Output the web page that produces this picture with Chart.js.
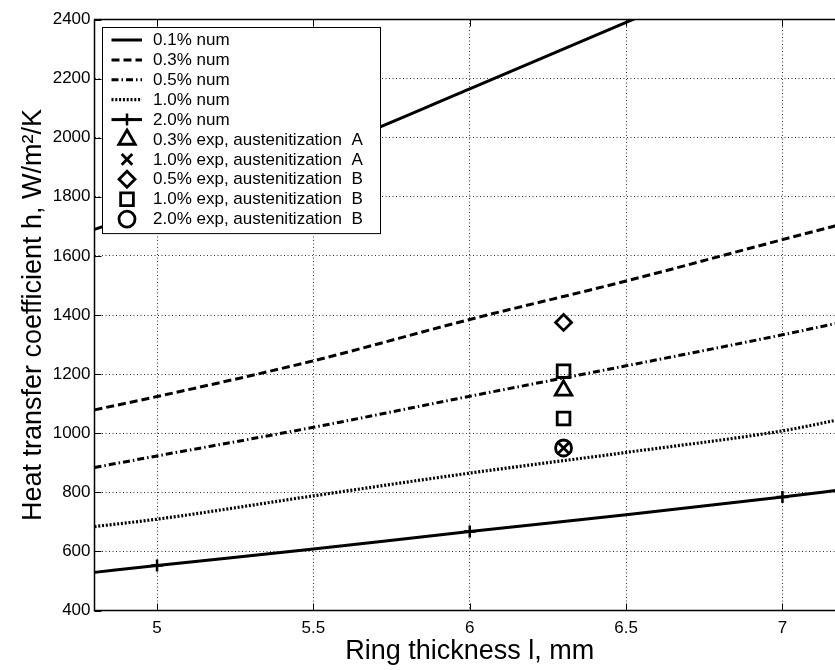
<!DOCTYPE html>
<html>
<head>
<meta charset="utf-8">
<script src="https://cdn.jsdelivr.net/npm/chart.js@4.4.1/dist/chart.umd.min.js"></script>
<style>
  html, body { margin: 0; padding: 0; background: #fff; overflow: hidden; }
  #wrap { width: 835px; height: 670px; overflow: hidden; }
  canvas { display: block; }
</style>
</head>
<body>
<div id="wrap"><canvas id="c" width="860" height="670"></canvas></div>
<script>
// Ring thickness (mm) at which the numerical curves are evaluated
const thickness = [4.8, 5.0, 5.5, 6.0, 6.5, 7.0, 7.2];

// Numerical heat transfer coefficient, W/m²/K, per carbon content
const num01 = [1690, 1760, 1945, 2165, 2390, 2620, 2710];
const num03 = [1079, 1124, 1245, 1385, 1515, 1655, 1710];
const num05 = [884, 923, 1020, 1125, 1228, 1333, 1378];
const num10 = [684, 709, 788, 865, 935, 1008, 1050];
const num20 = [529, 552, 608, 667, 724, 784, 810];
const num20Markers = [5.0, 6.0, 7.0];

// Experimental results, all measured on 6.3 mm rings
const expThickness = 6.3;
const exp03A = [1145];
const exp10A = [950];
const exp05B = [1375];
const exp10B = [1210, 1050];
const exp20B = [950];

const xTicks = [5, 5.5, 6, 6.5, 7];
const yTicks = [400, 600, 800, 1000, 1200, 1400, 1600, 1800, 2000, 2200, 2400];

const FONT = "'Liberation Sans', Arial, Helvetica, sans-serif";

function curve(values) {
  return values.map((v, i) => ({ x: thickness[i], y: v }));
}
function points(values) {
  return values.map(v => ({ x: expThickness, y: v }));
}

function lineSet(label, values, dash, extra) {
  return Object.assign({
    label,
    data: curve(values),
    borderColor: '#000',
    backgroundColor: '#000',
    borderWidth: 3,
    borderDash: dash,
    borderCapStyle: 'butt',
    pointRadius: 0,
    cubicInterpolationMode: 'monotone',
    fill: false,
    order: 1
  }, extra || {});
}

function markerSet(label, values, style, radius) {
  return {
    label,
    data: points(values),
    showLine: false,
    pointStyle: style,
    pointRadius: radius,
    pointBorderWidth: 2.8,
    pointBorderColor: '#000',
    pointBackgroundColor: 'rgba(0,0,0,0)',
    borderColor: '#000',
    backgroundColor: 'rgba(0,0,0,0)',
    order: 0
  };
}

const datasets = [
  lineSet('0.1% num', num01, []),
  lineSet('0.3% num', num03, [8, 4]),
  lineSet('0.5% num', num05, [7, 3, 1.5, 3]),
  lineSet('1.0% num', num10, [2, 1.8], { borderWidth: 3.2 }),
  lineSet('2.0% num', num20, [], {
    pointStyle: 'cross',
    pointRadius: thickness.map(t => num20Markers.includes(t) ? 6 : 0),
    pointBorderWidth: 2.5,
    pointBorderColor: '#000'
  }),
  markerSet('0.3% exp, austenitization  A', exp03A, 'triangle', 9.5),
  markerSet('1.0% exp, austenitization  A', exp10A, 'crossRot', 7.5),
  markerSet('0.5% exp, austenitization  B', exp05B, 'rectRot', 8),
  markerSet('1.0% exp, austenitization  B', exp10B, 'rect', 9),
  markerSet('2.0% exp, austenitization  B', exp20B, 'circle', 8)
];

// Marker glyphs used in the legend
function drawMarker(ctx, style, x, y, r) {
  ctx.beginPath();
  switch (style) {
    case 'triangle':
      for (let k = 0; k < 3; k++) {
        const a = k * 2 * Math.PI / 3;
        const px = x + Math.sin(a) * r, py = y - Math.cos(a) * r;
        if (k === 0) ctx.moveTo(px, py); else ctx.lineTo(px, py);
      }
      ctx.closePath();
      break;
    case 'crossRot': {
      const d = Math.SQRT1_2 * r;
      ctx.moveTo(x - d, y - d); ctx.lineTo(x + d, y + d);
      ctx.moveTo(x + d, y - d); ctx.lineTo(x - d, y + d);
      break;
    }
    case 'cross':
      ctx.moveTo(x, y - r); ctx.lineTo(x, y + r);
      ctx.moveTo(x - r, y); ctx.lineTo(x + r, y);
      break;
    case 'rectRot':
      ctx.moveTo(x, y - r); ctx.lineTo(x + r, y); ctx.lineTo(x, y + r); ctx.lineTo(x - r, y);
      ctx.closePath();
      break;
    case 'rect': {
      const s = Math.SQRT1_2 * r;
      ctx.rect(x - s, y - s, 2 * s, 2 * s);
      break;
    }
    case 'circle':
      ctx.arc(x, y, r, 0, 2 * Math.PI);
      break;
  }
  ctx.stroke();
}

// Legend box in the upper-left corner of the plot
const legendBox = {
  id: 'legendBox',
  afterDatasetsDraw(chart) {
    const ctx = chart.ctx;
    const x0 = 102.5, y0 = 27.5, w = 278, rowH = 19.9, padTop = 12.5;
    const n = chart.data.datasets.length;
    const h = padTop * 2 + rowH * (n - 1) + 2;
    ctx.save();
    ctx.fillStyle = '#fff';
    ctx.fillRect(x0, y0, w, h);
    ctx.strokeStyle = '#000';
    ctx.lineWidth = 1;
    ctx.strokeRect(x0, y0, w, h);
    ctx.font = '17px ' + FONT;
    ctx.textBaseline = 'middle';
    ctx.textAlign = 'left';
    chart.data.datasets.forEach((ds, i) => {
      const cy = y0 + padTop + i * rowH;
      ctx.strokeStyle = '#000';
      ctx.fillStyle = '#000';
      if (ds.showLine === false) {
        ctx.lineWidth = ds.pointBorderWidth;
        ctx.setLineDash([]);
        drawMarker(ctx, ds.pointStyle, 127, cy, ds.pointRadius);
      } else {
        ctx.lineWidth = ds.borderWidth;
        ctx.setLineDash(ds.borderDash || []);
        ctx.lineCap = 'butt';
        ctx.beginPath();
        ctx.moveTo(111.5, cy);
        ctx.lineTo(142, cy);
        ctx.stroke();
        ctx.setLineDash([]);
        if (ds.pointStyle === 'cross') {
          ctx.lineWidth = ds.pointBorderWidth;
          drawMarker(ctx, 'cross', 127, cy, 6);
        }
      }
      ctx.fillText(ds.label, 153, cy + 0.5);
    });
    ctx.restore();
  }
};

// Axes box with inward tick marks
const axesFrame = {
  id: 'axesFrame',
  afterDraw(chart) {
    const ctx = chart.ctx;
    const { left, right, top, bottom } = chart.chartArea;
    const xs = chart.scales.x, ys = chart.scales.y;
    const tl = 7;
    ctx.save();
    ctx.strokeStyle = '#000';
    ctx.lineWidth = 1.5;
    ctx.setLineDash([]);
    ctx.strokeRect(left, top, right - left, bottom - top);
    ctx.lineWidth = 1;
    ctx.beginPath();
    xTicks.forEach(v => {
      const px = Math.round(xs.getPixelForValue(v)) + 0.5;
      ctx.moveTo(px, bottom); ctx.lineTo(px, bottom - tl);
      ctx.moveTo(px, top); ctx.lineTo(px, top + tl);
    });
    yTicks.forEach(v => {
      const py = Math.round(ys.getPixelForValue(v)) + 0.5;
      ctx.moveTo(left, py); ctx.lineTo(left + tl, py);
      ctx.moveTo(right, py); ctx.lineTo(right - tl, py);
    });
    ctx.stroke();
    ctx.restore();
  }
};

new Chart(document.getElementById('c'), {
  type: 'line',
  data: { datasets },
  options: {
    responsive: false,
    animation: false,
    devicePixelRatio: 1,
    layout: { padding: { top: 19.5, right: 15, left: 0, bottom: 0 } },
    plugins: {
      legend: { display: false },
      tooltip: { enabled: false }
    },
    scales: {
      x: {
        type: 'linear',
        min: 4.8,
        max: 7.2,
        afterBuildTicks: s => { s.ticks = xTicks.map(v => ({ value: v })); },
        afterFit: s => { s.height = 59.5; },
        grid: { color: 'rgba(0,0,0,0.8)', lineWidth: 1, drawTicks: false },
        border: { display: false, dash: [1, 2.5] },
        ticks: {
          color: '#000',
          padding: 8,
          maxRotation: 0,
          font: { family: FONT, size: 17 },
          callback: v => String(v)
        },
        title: {
          display: true,
          text: 'Ring thickness l, mm',
          color: '#000',
          font: { family: FONT, size: 27 },
          padding: { top: 0, bottom: 2 }
        }
      },
      y: {
        type: 'linear',
        min: 400,
        max: 2400,
        afterBuildTicks: s => { s.ticks = yTicks.map(v => ({ value: v })); },
        afterFit: s => { s.width = 94.5; },
        grid: { color: 'rgba(0,0,0,0.8)', lineWidth: 1, drawTicks: false },
        border: { display: false, dash: [1, 2.5] },
        ticks: {
          color: '#000',
          padding: 4,
          font: { family: FONT, size: 17 },
          callback: v => String(v)
        },
        title: {
          display: true,
          text: 'Heat transfer coefficient h, W/m²/K',
          color: '#000',
          font: { family: FONT, size: 27 },
          padding: { top: 17, bottom: 0 }
        }
      }
    }
  },
  plugins: [legendBox, axesFrame]
});
</script>
</body>
</html>
